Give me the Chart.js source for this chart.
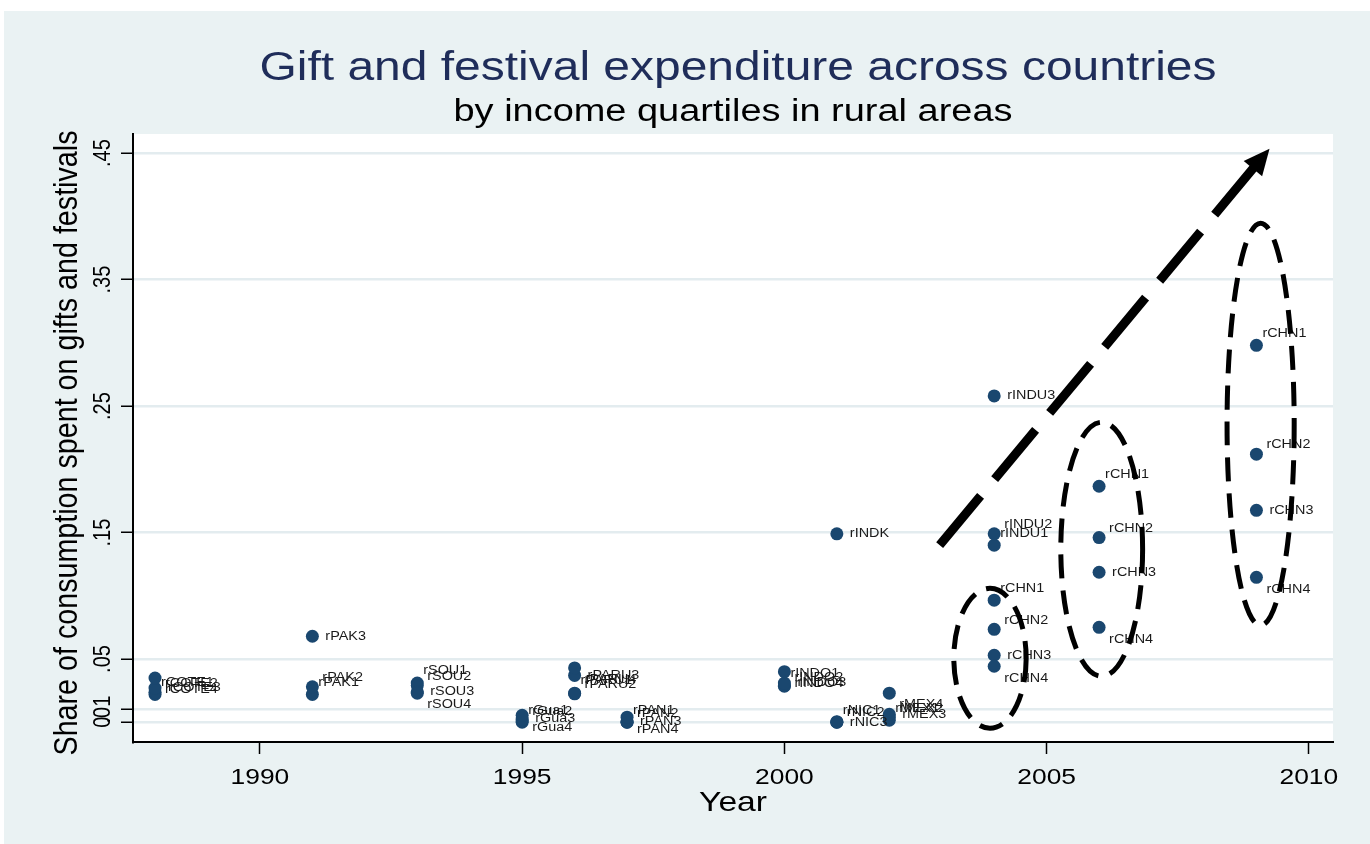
<!DOCTYPE html>
<html>
<head>
<meta charset="utf-8">
<title>Gift and festival expenditure across countries</title>
<script src="https://cdn.jsdelivr.net/npm/chart.js@4.4.1/dist/chart.umd.min.js"></script>
<style>
  html, body { margin: 0; padding: 0; background: #fff; }
  canvas { display: block; }
</style>
</head>
<body>
<canvas id="chart" width="1370" height="844"></canvas>
<script>
// ─── Data ──────────────────────────────────────────────

const pointLabels = [
  'rCOTE1', 'rCOTE2', 'rCOTE3', 'rCOTE4',
  'rPAK1', 'rPAK2', 'rPAK3',
  'rSOU1', 'rSOU2', 'rSOU3', 'rSOU4',
  'rGua1', 'rGua2', 'rGua3', 'rGua4',
  'rPARU1', 'rPARU2', 'rPARU3', 'rPARU4',
  'rPAN1', 'rPAN2', 'rPAN3', 'rPAN4',
  'rINDO1', 'rINDO2', 'rINDO3', 'rINDO4',
  'rNIC1', 'rNIC2', 'rNIC3', 'rINDK',
  'rMEX1', 'rMEX2', 'rMEX3', 'rMEX4',
  'rINDU1', 'rINDU2', 'rINDU3',
  'rCHN1', 'rCHN2', 'rCHN3', 'rCHN4',
  'rCHN1', 'rCHN2', 'rCHN3', 'rCHN4',
  'rCHN1', 'rCHN2', 'rCHN3', 'rCHN4',
];

const pointYears = [
  1988, 1988, 1988, 1988,
  1991, 1991, 1991,
  1993, 1993, 1993, 1993,
  1995, 1995, 1995, 1995,
  1996, 1996, 1996, 1996,
  1997, 1997, 1997, 1997,
  2000, 2000, 2000, 2000,
  2001, 2001, 2001, 2001,
  2002, 2002, 2002, 2002,
  2004, 2004, 2004,
  2004, 2004, 2004, 2004,
  2006, 2006, 2006, 2006,
  2009, 2009, 2009, 2009,
];

const pointShares = [
  0.022, 0.0237, 0.027, 0.035,
  0.022, 0.028, 0.068,
  0.031, 0.029, 0.024, 0.023,
  0.000, 0.001, 0.0025, 0.0055,
  0.023, 0.0225, 0.037, 0.043,
  0.000, 0.000, 0.0005, 0.004,
  0.029, 0.0285, 0.031, 0.040,
  0.000, 0.0005, 0.000, 0.149,
  0.0016, 0.004, 0.0063, 0.023,
  0.140, 0.149, 0.258,
  0.0965, 0.0735, 0.053, 0.0443,
  0.1866, 0.146, 0.1186, 0.0751,
  0.298, 0.212, 0.1676, 0.1146,
];

const xTicks = [1990, 1995, 2000, 2005, 2010];
const yTicks = [0, 0.01, 0.05, 0.15, 0.25, 0.35, 0.45];

// hand-drawn annotations, in data units
const arrowYears  = [2002.96, 2009.25];
const arrowShares = [0.140, 0.4535];

const ringYears   = [2003.92, 2006.05, 2009.08];
const ringShares  = [0.0506, 0.1368, 0.2356];
const ringHalfW   = [0.69, 0.78, 0.64];     // years
const ringHalfH   = [0.0553, 0.1004, 0.159]; // share

// ─── Drawing helpers ───────────────────────────────────

const FONT = '"Liberation Sans", Arial, sans-serif';
const SX   = 1.2; // the exported graph is stretched sideways

function drawText(ctx, text, x, y, o) {
  ctx.save();
  ctx.font = `${o.size}px ${FONT}`;
  ctx.fillStyle    = o.color || '#000';
  ctx.textAlign    = o.align || 'center';
  ctx.textBaseline = o.baseline || 'alphabetic';
  ctx.translate(x, y);
  const w = ctx.measureText(text).width;
  if (o.rotate) {
    ctx.rotate(-Math.PI / 2);
    ctx.scale(o.len ? o.len / w : 1, SX);
  } else {
    ctx.scale(o.len ? o.len / w : SX, 1);
  }
  ctx.fillText(text, 0, 0);
  ctx.restore();
}

// Stata mlabvpos: quartile n sits at clock position n
const CLOCK = { 1: [6, -12], 2: [10, -9], 3: [13, 0], 4: [10, 12] };
function clockOffset(label) {
  const q = Number(label.slice(-1));
  return CLOCK[q] || CLOCK[3];
}

const tickText = v => v === 0 ? '0' : String(v).replace('0.', '.');

const stataPlugin = {
  id: 'stata',
  beforeDraw(chart) {
    const { ctx, chartArea: a } = chart;
    ctx.save();
    ctx.fillStyle = '#fff';
    ctx.fillRect(0, 0, chart.width, chart.height);
    ctx.fillStyle = '#EAF2F3';
    ctx.fillRect(4, 11, chart.width - 4, chart.height - 11);
    ctx.fillStyle = '#fff';
    ctx.fillRect(a.left, a.top, a.right - a.left, a.bottom - a.top);
    ctx.restore();
  },
  afterDatasetDraw(chart, args) {
    if (args.index !== 0) return;
    const { ctx } = chart;
    const meta = chart.getDatasetMeta(0);
    meta.data.forEach((pt, i) => {
      const [dx, dy] = clockOffset(pointLabels[i]);
      drawText(ctx, pointLabels[i], pt.x + dx, pt.y + dy,
        { size: 12, align: 'left', baseline: 'middle', color: '#1a1a1a' });
    });
  },
  afterDatasetsDraw(chart) {
    const { ctx, scales: { x, y } } = chart;

    // dashed rings round the China clusters
    ctx.save();
    ctx.strokeStyle = '#000';
    ctx.lineWidth = 5;
    ctx.setLineDash([24, 12]);
    ringYears.forEach((yr, i) => {
      const cx = x.getPixelForValue(yr);
      const cy = y.getPixelForValue(ringShares[i]);
      const rx = x.getPixelForValue(yr + ringHalfW[i]) - cx;
      const ry = cy - y.getPixelForValue(ringShares[i] + ringHalfH[i]);
      ctx.beginPath();
      ctx.ellipse(cx, cy, rx, ry, 0, 0, Math.PI * 2);
      ctx.stroke();
    });
    ctx.restore();

    // arrow head
    const x0 = x.getPixelForValue(arrowYears[0]), y0 = y.getPixelForValue(arrowShares[0]);
    const x1 = x.getPixelForValue(arrowYears[1]), y1 = y.getPixelForValue(arrowShares[1]);
    const ang = Math.atan2(y1 - y0, x1 - x0);
    const len = 26, half = 12;
    ctx.save();
    ctx.translate(x1, y1);
    ctx.rotate(ang);
    ctx.fillStyle = '#000';
    ctx.beginPath();
    ctx.moveTo(0, 0);
    ctx.lineTo(-len, -half);
    ctx.lineTo(-len, half);
    ctx.closePath();
    ctx.fill();
    ctx.restore();
  },
  afterDraw(chart) {
    const { ctx, chartArea: a, scales: { x, y } } = chart;

    drawText(ctx, 'Gift and festival expenditure across countries', 738, 80,
      { size: 40, color: '#1f2d5a', len: 957 });
    drawText(ctx, 'by income quartiles in rural areas', 733, 121,
      { size: 31, color: '#000', len: 559 });

    xTicks.forEach(v => {
      drawText(ctx, String(v), x.getPixelForValue(v), a.bottom + 42, { size: 22 });
    });
    drawText(ctx, 'Year', (a.left + a.right) / 2, a.bottom + 69, { size: 28 });

    yTicks.forEach(v => {
      drawText(ctx, tickText(v), a.left - 23, y.getPixelForValue(v), { size: 20, rotate: true });
    });
    drawText(ctx, 'Share of consumption spent on gifts and festivals', 77, 443,
      { size: 27, rotate: true, len: 625 });
  },
};

// ─── Chart ─────────────────────────────────────────────

new Chart(document.getElementById('chart'), {
  type: 'scatter',
  data: {
    datasets: [
      {
        data: pointYears.map((yr, i) => ({ x: yr, y: pointShares[i] })),
        backgroundColor: '#1A476F',
        borderWidth: 0,
        pointRadius: 6.5,
        order: 1,
      },
      {
        type: 'line',
        data: arrowYears.map((yr, i) => ({ x: yr, y: arrowShares[i] })),
        borderColor: '#000',
        borderWidth: 9,
        borderDash: [64, 22],
        borderCapStyle: 'butt',
        pointRadius: 0,
        fill: false,
        order: 0,
      },
    ],
  },
  options: {
    responsive: false,
    animation: false,
    devicePixelRatio: 1,
    layout: { padding: { left: 121, top: 134, right: 37, bottom: 90 } },
    plugins: { legend: { display: false }, tooltip: { enabled: false } },
    scales: {
      x: {
        type: 'linear',
        min: 1987.58,
        max: 2010.46,
        afterBuildTicks: s => { s.ticks = xTicks.map(v => ({ value: v })); },
        ticks: { display: false },
        grid: { drawOnChartArea: false, tickColor: '#000', tickLength: 12, tickWidth: 1.5 },
        border: { color: '#000', width: 2 },
      },
      y: {
        min: -0.0156,
        max: 0.4651,
        afterBuildTicks: s => { s.ticks = yTicks.map(v => ({ value: v })); },
        ticks: { display: false },
        grid: { color: '#E3ECEF', lineWidth: 2.5, tickColor: '#000', tickLength: 12, tickWidth: 1.5 },
        border: { color: '#000', width: 2 },
      },
    },
  },
  plugins: [stataPlugin],
});
</script>
</body>
</html>
